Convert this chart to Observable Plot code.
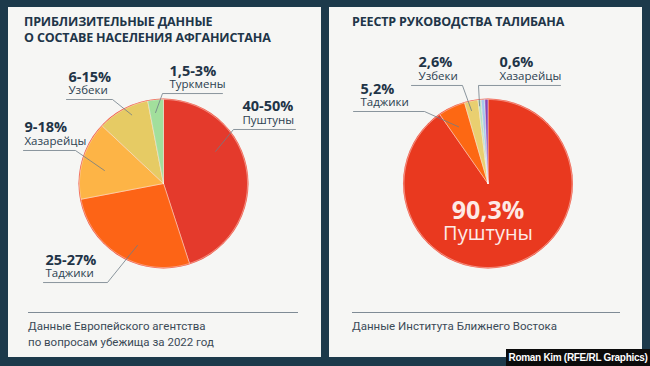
<!DOCTYPE html>
<html>
<head>
<meta charset="utf-8">
<script src="https://cdn.jsdelivr.net/npm/d3@7"></script>
<script src="https://cdn.jsdelivr.net/npm/@observablehq/plot@0.6"></script>
<style>
  html, body { margin: 0; padding: 0; }
  body {
    width: 650px; height: 366px; overflow: hidden; position: relative;
    background: #1d3a4b; font-family: "Open Sans", sans-serif;
  }
  .panel { position: absolute; top: 7px; width: 313px; height: 350px; background: #f6f6f4; }
  .title {
    position: absolute; top: 7px; font-weight: 700; font-size: 12.5px; line-height: 16px;
    color: #213548; letter-spacing: -0.15px; white-space: nowrap;
  }
  .chart { position: absolute; left: 0; top: 48px; }
  .rule { position: absolute; top: 305px; height: 1px; background: #7f8b95; }
  .source {
    position: absolute; top: 311px; font-family: Roboto, sans-serif; font-size: 11.5px;
    line-height: 16px; color: #3b4a57; white-space: nowrap;
  }
  .credit {
    position: absolute; left: 506px; top: 349px; width: 144px; height: 17px;
    background: #0b0b0b; color: #fff; font: bold 10px "Liberation Sans", Arial, sans-serif;
    letter-spacing: -0.3px; line-height: 17px; text-align: center; white-space: nowrap;
  }
  g[aria-label="glow"] { filter: blur(5px); opacity: 0.55; }
</style>
</head>
<body>
<div class="panel" id="left" style="left:8px">
  <div class="title" style="left:16px">ПРИБЛИЗИТЕЛЬНЫЕ ДАННЫЕ<br>О СОСТАВЕ НАСЕЛЕНИЯ АФГАНИСТАНА</div>
  <div class="chart" id="leftChart"></div>
  <div class="rule" style="left:20px;width:270px"></div>
  <div class="source" style="left:20px">Данные Европейского агентства<br>по вопросам убежища за 2022 год</div>
</div>
<div class="panel" id="right" style="left:329px">
  <div class="title" style="left:23px">РЕЕСТР РУКОВОДСТВА ТАЛИБАНА</div>
  <div class="chart" id="rightChart"></div>
  <div class="rule" style="left:23px;width:268px"></div>
  <div class="source" style="left:23px">Данные Института Ближнего Востока</div>
</div>
<div class="credit">Roman Kim (RFE/RL Graphics)</div>

<script>
// Estimated population shares (ranges shown as labels, midpoints drawn)
const popNames  = ["Пуштуны", "Таджики", "Хазарейцы", "Узбеки", "Туркмены"];
const popValues = [45, 27, 15, 10, 3];
const popLabels = ["40-50%", "25-27%", "9-18%", "6-15%", "1,5-3%"];
const popColors = ["#e43a2c", "#fd6416", "#fdb446", "#e6cb64", "#a2df9c"];

// Taliban leadership register
const talNames  = ["Пуштуны", "Таджики", "Узбеки", "Хазарейцы", "Прочие А", "Прочие Б"];
const talValues = [90.3, 5.2, 2.6, 0.6, 0.7, 0.6];
const talLabels = ["90,3%", "5,2%", "2,6%", "0,6%", "", ""];
const talColors = ["#e9391f", "#fd6813", "#e9cf70", "#b6e4c3", "#a5c6ee", "#8845b2"];

// Callout layout in pie-radius units: tip position inside the slice (t along the
// arc, r from centre), elbow of the leader, end of the horizontal run, text x.
const popCallouts = [
  {i: 0, t: 0.36, r: 0.73, ex: 0.833,  ey: 0.643,  end: 1.571,  tx: 0.940},
  {i: 1, t: 0.42, r: 0.80, ex: -0.667, ey: -1.179, end: -1.429, tx: -1.405},
  {i: 2, t: 0.43, r: 0.72, ex: -1.048, ey: 0.393,  end: -1.667, tx: -1.655},
  {i: 3, t: 0.61, r: 0.90, ex: -0.607, ey: 1.0,    end: -1.155, tx: -1.131},
  {i: 4, t: 0.41, r: 0.85, ex: -0.012, ey: 1.071,  end: 0.702,  tx: 0.071}
];
const talCallouts = [
  {i: 1, t: 0.40, r: 0.76, ex: -0.756, ey: 0.857, end: -1.601, tx: -1.518},
  {i: 2, t: 0.37, r: 0.89, ex: -0.304, ey: 1.167, end: -0.911, tx: -0.827},
  {i: 3, t: 0.30, r: 0.93, ex: -0.113, ey: 1.167, end: 0.863,  tx: 0.137}
];

const R = 84;

// Turn each pie arc into a closed polygon (centre → arc → centre)
function slicePolygons(names, values) {
  const arcs = d3.pie().sort(null).value(d => d)(values);
  const polys = arcs.map((a, i) => {
    const n = Math.max(2, Math.ceil((a.endAngle - a.startAngle) / 0.01));
    const pts = [{x: 0, y: 0}];
    for (let k = 0; k <= n; k++) {
      const ang = a.startAngle + (a.endAngle - a.startAngle) * k / n;
      pts.push({x: Math.sin(ang), y: Math.cos(ang)});
    }
    pts.push({x: 0, y: 0});
    return {name: names[i], pts};
  });
  return {arcs, polys};
}

function leaderLines(arcs, names, callouts) {
  const out = [];
  for (const c of callouts) {
    const a = arcs[c.i];
    const ang = a.startAngle + c.t * (a.endAngle - a.startAngle);
    out.push({name: names[c.i], x: c.r * Math.sin(ang), y: c.r * Math.cos(ang)});
    out.push({name: names[c.i], x: c.ex, y: c.ey});
    out.push({name: names[c.i], x: c.end, y: c.ey});
  }
  return out;
}

function pieChart({names, values, labels, colors, callouts, cx, cy, extra = []}) {
  const {arcs, polys} = slicePolygons(names, values);
  const leaders = leaderLines(arcs, names, callouts);
  const textRows = callouts.map(c => ({x: c.tx, y: c.ey, value: labels[c.i], name: names[c.i]}));
  return Plot.plot({
    width: 313, height: 250, margin: 0,
    x: {domain: [-1, 1], range: [cx - R, cx + R], axis: null},
    y: {domain: [-1, 1], range: [cy + R, cy - R], axis: null},
    style: {background: "transparent", fontFamily: "Open Sans", overflow: "visible"},
    marks: [
      // soft reddish halo behind the pie
      Plot.dot([{x: 0, y: 0}], {x: "x", y: "y", r: R + 1, fill: "#f0503a", stroke: "none", ariaLabel: "glow"}),
      ...polys.map((p, i) => Plot.line(p.pts, {x: "x", y: "y", fill: colors[i], stroke: "#ffffff",
        strokeWidth: 0.6, strokeOpacity: 0.7, curve: "linear"})),
      Plot.line(leaders, {x: "x", y: "y", z: "name", stroke: "#6f7c87", strokeWidth: 0.8}),
      Plot.text(textRows, {x: "x", y: "y", text: "value", dy: -18, textAnchor: "start",
        lineAnchor: "bottom", fontSize: 14.5, fontWeight: 700, fill: "#1f3447"}),
      Plot.text(textRows, {x: "x", y: "y", text: "name", dy: -5.5, textAnchor: "start",
        lineAnchor: "bottom", fontSize: 11.5, fill: "#2b3e50"}),
      ...extra
    ]
  });
}

document.getElementById("leftChart").append(pieChart({
  names: popNames, values: popValues, labels: popLabels, colors: popColors,
  callouts: popCallouts, cx: 155, cy: 128
}));

// The dominant slice is labelled inside the pie
const inner = [{x: 0, y: -0.417, value: talLabels[0], name: talNames[0]}];
document.getElementById("rightChart").append(pieChart({
  names: talNames, values: talValues, labels: talLabels, colors: talColors,
  callouts: talCallouts, cx: 158.5, cy: 128,
  extra: [
    Plot.text(inner, {x: "x", y: "y", text: "value", lineAnchor: "bottom",
      fontSize: 25, fontWeight: 700, fill: "#fdeae6"}),
    Plot.text(inner, {x: "x", y: "y", text: "name", dy: 21, lineAnchor: "bottom",
      fontSize: 20, fill: "#fdeae6"})
  ]
}));
</script>
</body>
</html>
